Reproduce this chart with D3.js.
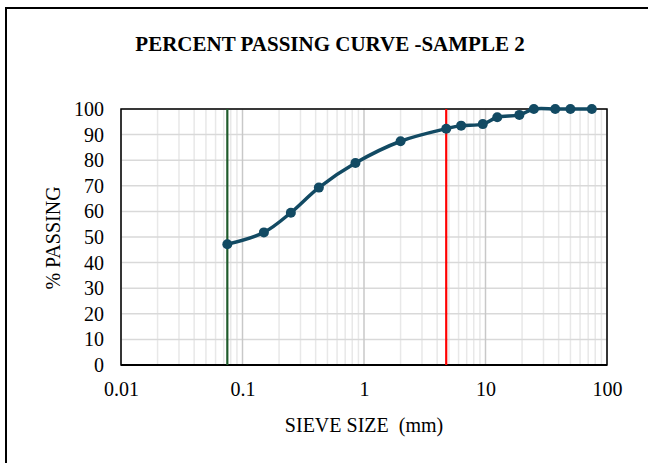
<!DOCTYPE html>
<html>
<head>
<meta charset="utf-8">
<script src="https://cdn.jsdelivr.net/npm/d3@7"></script>
<style>
  body { margin: 0; background: #fff; }
  text { font-family: "Liberation Serif", "Times New Roman", serif; fill: #000; }
</style>
</head>
<body>
<svg id="chart" width="648" height="463"></svg>
<script>
// sieve sizes (mm) and percent passing
var sieveSizes = [0.075, 0.15, 0.25, 0.425, 0.85, 2, 4.75, 6.3, 9.5, 12.5, 19, 25, 37.5, 50, 75];
var percentPassing = [47.2, 51.8, 59.5, 69.3, 78.9, 87.4, 92.3, 93.5, 94.1, 96.8, 97.7, 100, 100, 100, 100];
var xTicks = [0.01, 0.1, 1, 10, 100];
var yTicks = [0, 10, 20, 30, 40, 50, 60, 70, 80, 90, 100];
// vertical marker lines: #200 sieve and #4 sieve
var markerSizes = [0.075, 4.75];
var markerColors = ['#1f5b2b', '#ff0000'];

var svg = d3.select('#chart');

// outer chart frame (only top and left edges show in the crop)
svg.append('path')
    .attr('d', 'M6,463 V8 H648')
    .style('fill', 'none')
    .style('stroke', '#000')
    .style('stroke-width', 2);

var pLeft = 121, pRight = 607, pTop = 109, pBottom = 365;

var x = d3.scaleLog().domain([0.01, 100]).range([pLeft, pRight]);
var y = d3.scaleLinear().domain([0, 100]).range([pBottom, pTop]);

// minor vertical grid (2..9 in each decade)
var minor = [];
for (var d = 0.01; d < 99; d *= 10) {
    for (var k = 2; k <= 9; k++) minor.push(d * k);
}
svg.append('g').selectAll('line').data(minor).enter()
    .append('line')
    .attr('x1', function(v) { return x(v); })
    .attr('x2', function(v) { return x(v); })
    .attr('y1', pTop).attr('y2', pBottom)
    .style('stroke', '#e8e8e8').style('stroke-width', 1.5);

// horizontal grid
svg.append('g').selectAll('line').data(yTicks).enter()
    .append('line')
    .attr('x1', pLeft).attr('x2', pRight)
    .attr('y1', function(v) { return y(v); })
    .attr('y2', function(v) { return y(v); })
    .style('stroke', '#d9d9d9').style('stroke-width', 1.5);

// major vertical grid
svg.append('g').selectAll('line').data(xTicks).enter()
    .append('line')
    .attr('x1', function(v) { return x(v); })
    .attr('x2', function(v) { return x(v); })
    .attr('y1', pTop).attr('y2', pBottom)
    .style('stroke', '#c8c8c8').style('stroke-width', 1.5);

// plot frame
svg.append('rect')
    .attr('x', pLeft).attr('y', pTop)
    .attr('width', pRight - pLeft).attr('height', pBottom - pTop)
    .style('fill', 'none').style('stroke', '#000').style('stroke-width', 1.5);
svg.append('line')
    .attr('x1', pLeft).attr('x2', pRight)
    .attr('y1', pBottom).attr('y2', pBottom)
    .style('stroke', '#000').style('stroke-width', 2);

// marker lines
svg.append('g').selectAll('line').data(markerSizes).enter()
    .append('line')
    .attr('x1', function(v) { return x(v); })
    .attr('x2', function(v) { return x(v); })
    .attr('y1', pTop).attr('y2', pBottom)
    .style('stroke', function(d, i) { return markerColors[i]; })
    .style('stroke-width', 2.2);

// axes (labels only)
var xAxis = svg.append('g')
    .attr('transform', 'translate(0,' + pBottom + ')')
    .call(d3.axisBottom(x).tickValues(xTicks).tickSize(0).tickPadding(17)
        .tickFormat(function(v) { return String(v); }));
var yAxis = svg.append('g')
    .attr('transform', 'translate(' + pLeft + ',0)')
    .call(d3.axisLeft(y).tickValues(yTicks).tickSize(0).tickPadding(17));
[xAxis, yAxis].forEach(function(a) {
    a.select('.domain').remove();
    a.selectAll('text')
        .style('font-family', '"Liberation Serif", "Times New Roman", serif')
        .style('font-size', '20px')
        .style('fill', '#000');
});

// curve
var pts = sieveSizes.map(function(s, i) { return [s, percentPassing[i]]; });
var line = d3.line()
    .x(function(d) { return x(d[0]); })
    .y(function(d) { return y(d[1]); })
    .curve(d3.curveCatmullRom.alpha(0.5));
svg.append('path')
    .datum(pts)
    .attr('d', line)
    .style('fill', 'none')
    .style('stroke', '#124a63')
    .style('stroke-width', 3.5);
svg.append('g').selectAll('circle').data(pts).enter()
    .append('circle')
    .attr('cx', function(d) { return x(d[0]); })
    .attr('cy', function(d) { return y(d[1]); })
    .attr('r', 5)
    .style('fill', '#124a63');

// titles
svg.append('text')
    .attr('x', 330).attr('y', 51)
    .attr('text-anchor', 'middle')
    .style('font-size', '21px').style('font-weight', 'bold')
    .text('PERCENT PASSING CURVE -SAMPLE 2');
svg.append('text')
    .attr('x', 364).attr('y', 432)
    .attr('text-anchor', 'middle')
    .style('font-size', '20px')
    .text('SIEVE SIZE\u00a0 (mm)');
svg.append('text')
    .attr('transform', 'translate(60,238) rotate(-90)')
    .attr('text-anchor', 'middle')
    .style('font-size', '20px')
    .text('% PASSING');
</script>
</body>
</html>
